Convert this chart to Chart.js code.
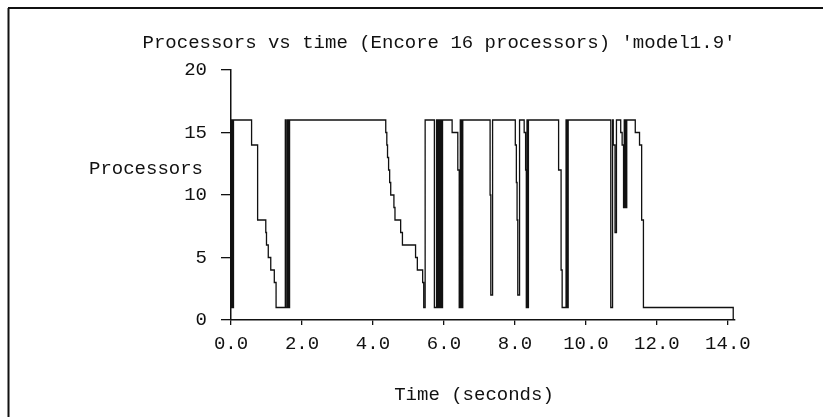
<!DOCTYPE html>
<html>
<head>
<meta charset="utf-8">
<script src="https://cdn.jsdelivr.net/npm/chart.js@4.4.0/dist/chart.umd.min.js"></script>
<style>
  html, body { margin: 0; padding: 0; background: #fff; }
  #grafico { display: block; }
</style>
</head>
<body>
<canvas id="grafico" width="823" height="417"></canvas>
<script>
// time (seconds) where each new processor count starts
const tiempos = [
    0, 0.01, 0.02, 0.03, 0.04, 0.05, 0.06, 0.07,
    0.58, 0.75, 0.98, 1.00, 1.05, 1.12, 1.22, 1.27,
    1.53, 1.55, 1.59, 1.60, 1.61, 1.62, 1.63, 1.64, 1.65,
    4.36, 4.39, 4.41, 4.44, 4.47, 4.50, 4.59, 4.62, 4.78, 4.83, 5.20, 5.25, 5.40, 5.43, 5.47,
    5.73, 5.79, 5.81, 5.83, 5.85, 5.87, 5.89, 5.91, 5.93, 5.96,
    6.23, 6.39, 6.43, 6.46, 6.47, 6.49, 6.50, 6.53,
    7.30, 7.32, 7.37,
    8.01, 8.04, 8.06, 8.08, 8.13,
    8.26, 8.30, 8.32, 8.34, 8.35, 8.38,
    9.23, 9.30, 9.33, 9.44, 9.45, 9.47, 9.48, 9.50,
    10.70, 10.75, 10.77, 10.82, 10.86,
    10.98, 11.02, 11.06, 11.08, 11.09, 11.11, 11.12, 11.15,
    11.39, 11.51, 11.57, 11.62,
    14.15
];
const procesadores = [
    1, 16, 1, 16, 1, 16, 1, 16,
    14, 8, 7, 6, 5, 4, 3, 1,
    16, 1, 16, 1, 16, 1, 16, 1, 16,
    15, 14, 13, 12, 11, 10, 9, 8, 7, 6, 5, 4, 3, 1, 16,
    1, 16, 1, 16, 1, 16, 1, 16, 1, 16,
    15, 12, 1, 16, 1, 16, 1, 16,
    10, 2, 16,
    14, 11, 8, 2, 16,
    15, 12, 1, 16, 1, 16,
    12, 4, 1, 16, 1, 16, 1, 16,
    1, 16, 14, 7, 16,
    15, 14, 9, 16, 9, 16, 9, 16,
    15, 14, 8, 1,
    0
];
const xTicks = [0, 2, 4, 6, 8, 10, 12, 14];
const yTicks = [0, 5, 10, 15, 20];

const titulo = "Processors vs time (Encore 16 processors) 'model1.9'";
const tituloX = "Time (seconds)";
const tituloY = "Processors";

const FUENTE = '"Liberation Mono", "DejaVu Sans Mono", monospace';

var puntos = [];
for (var i in tiempos) {
    puntos.push({ x: tiempos[i], y: procesadores[i] });
}

// frame lines and texts of the old plot
const textos = {
    id: 'textos',
    beforeDraw: function (chart) {
        var ctx = chart.ctx;
        ctx.save();
        ctx.fillStyle = '#fff';
        ctx.fillRect(0, 0, chart.width, chart.height);
        ctx.strokeStyle = '#111';
        ctx.lineWidth = 2;
        ctx.beginPath();
        ctx.moveTo(8, 8);
        ctx.lineTo(chart.width, 8);
        ctx.moveTo(8.5, 8);
        ctx.lineTo(8.5, chart.height);
        ctx.stroke();
        ctx.restore();
    },
    afterDraw: function (chart) {
        var ctx = chart.ctx;
        ctx.save();
        ctx.fillStyle = '#111';
        ctx.font = '19px ' + FUENTE;
        ctx.textBaseline = 'middle';
        ctx.textAlign = 'center';
        ctx.fillText(titulo, 439, 43);
        ctx.fillText(tituloX, 474, 395);
        ctx.textAlign = 'right';
        ctx.fillText(tituloY, 203, 169);
        ctx.restore();
    }
};

new Chart(document.getElementById('grafico'), {
    type: 'line',
    data: {
        datasets: [{
            data: puntos,
            stepped: true,
            borderColor: '#111',
            borderWidth: 1.3,
            pointRadius: 0,
            fill: false
        }]
    },
    options: {
        responsive: false,
        animation: false,
        layout: { padding: { left: 0, top: 70, right: 88, bottom: 0 } },
        plugins: {
            legend: { display: false },
            tooltip: { enabled: false },
            title: { display: false }
        },
        scales: {
            x: {
                type: 'linear',
                min: 0,
                max: 14.2,
                afterFit: function (scale) { scale.height = 97; },
                afterBuildTicks: function (scale) {
                    scale.ticks = xTicks.map(function (v) { return { value: v }; });
                },
                ticks: {
                    color: '#111',
                    font: { family: FUENTE, size: 19 },
                    padding: 8,
                    maxRotation: 0,
                    callback: function (v) { return Number(v).toFixed(1); }
                },
                grid: { drawOnChartArea: false, drawTicks: true, tickLength: 5, color: '#111', lineWidth: 1.3 },
                border: { display: true, color: '#111', width: 1.5 }
            },
            y: {
                min: 0,
                max: 20,
                afterFit: function (scale) { scale.width = 231; },
                afterBuildTicks: function (scale) {
                    scale.ticks = yTicks.map(function (v) { return { value: v }; });
                },
                ticks: {
                    color: '#111',
                    font: { family: FUENTE, size: 19 },
                    padding: 14
                },
                grid: { drawOnChartArea: false, drawTicks: true, tickLength: 10, color: '#111', lineWidth: 1.3 },
                border: { display: true, color: '#111', width: 1.5 }
            }
        }
    },
    plugins: [textos]
});
</script>
</body>
</html>
